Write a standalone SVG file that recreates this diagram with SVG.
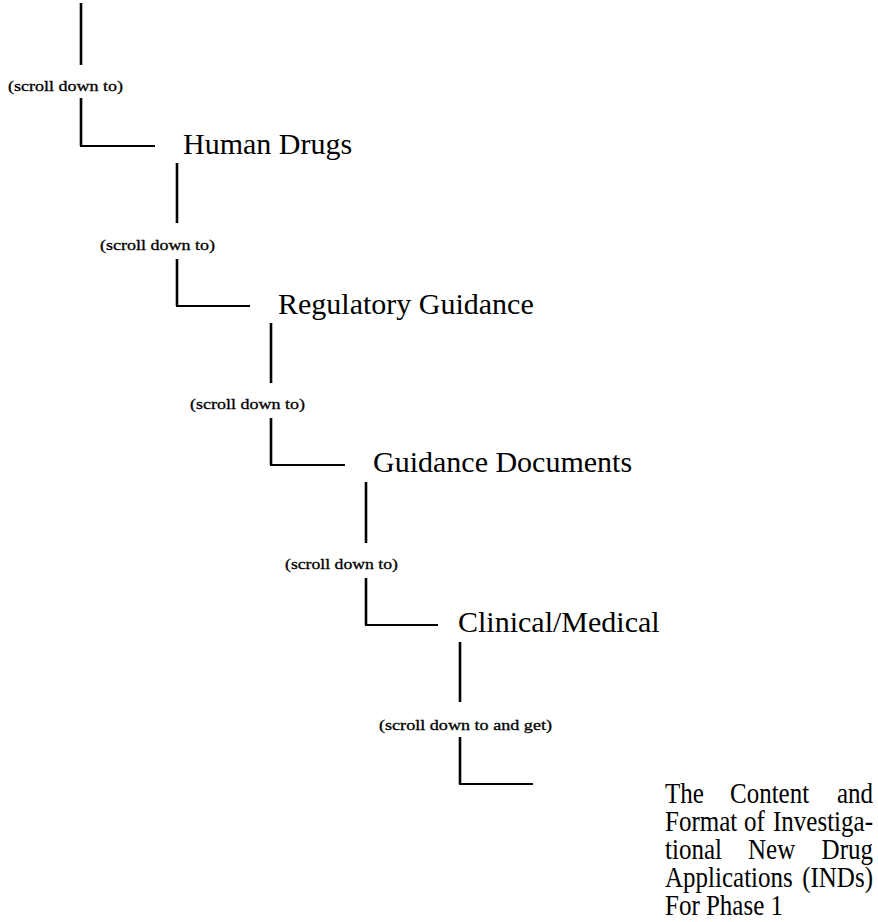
<svg xmlns="http://www.w3.org/2000/svg" width="878" height="922" viewBox="0 0 878 922">
<style>
.ln{stroke:#000;stroke-width:2.6;fill:none;stroke-linecap:butt}
.hl{stroke:#000;stroke-width:2.2;fill:none}
.lbl{font-family:"Liberation Serif","Times New Roman",serif;font-size:15px;fill:#000;stroke:#000;stroke-width:0.3}
.main{font-family:"Liberation Serif","Times New Roman",serif;font-size:30px;fill:#000}
.blk{font-family:"Liberation Serif","Times New Roman",serif;font-size:25px;fill:#000}
</style>
<rect width="878" height="922" fill="#fff"/>
<g id="connectors">
<path class="ln" d="M81,3V65"/>
<path class="ln" d="M81,98V146"/>
<path class="hl" d="M80,146H155"/>
<path class="ln" d="M177,163V223"/>
<path class="ln" d="M177,259V306"/>
<path class="hl" d="M176,306H250"/>
<path class="ln" d="M271,323V383"/>
<path class="ln" d="M271,418V465"/>
<path class="hl" d="M270,465H345"/>
<path class="ln" d="M366,482V543"/>
<path class="ln" d="M366,578V625"/>
<path class="hl" d="M365,625H438"/>
<path class="ln" d="M460,642V702"/>
<path class="ln" d="M460,737V784"/>
<path class="hl" d="M459,784H533"/>
</g>
<g id="step1"><text class="lbl" x="8" y="91" textLength="115" lengthAdjust="spacingAndGlyphs">(scroll down to)</text></g>
<g id="human-drugs"><text class="main" x="183" y="154">Human Drugs</text></g>
<g id="step2"><text class="lbl" x="100" y="250" textLength="115" lengthAdjust="spacingAndGlyphs">(scroll down to)</text></g>
<g id="regulatory-guidance"><text class="main" x="278" y="314">Regulatory Guidance</text></g>
<g id="step3"><text class="lbl" x="190" y="409" textLength="115" lengthAdjust="spacingAndGlyphs">(scroll down to)</text></g>
<g id="guidance-documents"><text class="main" x="373" y="472">Guidance Documents</text></g>
<g id="step4"><text class="lbl" x="285" y="569" textLength="113" lengthAdjust="spacingAndGlyphs">(scroll down to)</text></g>
<g id="clinical-medical"><text class="main" x="458" y="632">Clinical/Medical</text></g>
<g id="step5"><text class="lbl" x="379" y="730" textLength="173" lengthAdjust="spacingAndGlyphs">(scroll down to and get)</text></g>
<g id="ind-document">
<g transform="matrix(1,0,0,1.2,0,803)"><text class="blk" y="0"><tspan x="665">The</tspan><tspan x="730">Content</tspan><tspan x="873" text-anchor="end">and</tspan></text></g>
<g transform="matrix(1,0,0,1.2,0,831)"><text class="blk" y="0"><tspan x="665">Format</tspan><tspan x="744">of</tspan><tspan x="873" text-anchor="end">Investiga-</tspan></text></g>
<g transform="matrix(1,0,0,1.2,0,859)"><text class="blk" y="0"><tspan x="665">tional</tspan><tspan x="748">New</tspan><tspan x="873" text-anchor="end">Drug</tspan></text></g>
<g transform="matrix(1,0,0,1.2,0,887)"><text class="blk" y="0"><tspan x="665">Applications</tspan><tspan x="873" text-anchor="end">(INDs)</tspan></text></g>
<g transform="matrix(1,0,0,1.2,0,915)"><text class="blk" x="665" y="0">For Phase 1</text></g>
</g>
</svg>
